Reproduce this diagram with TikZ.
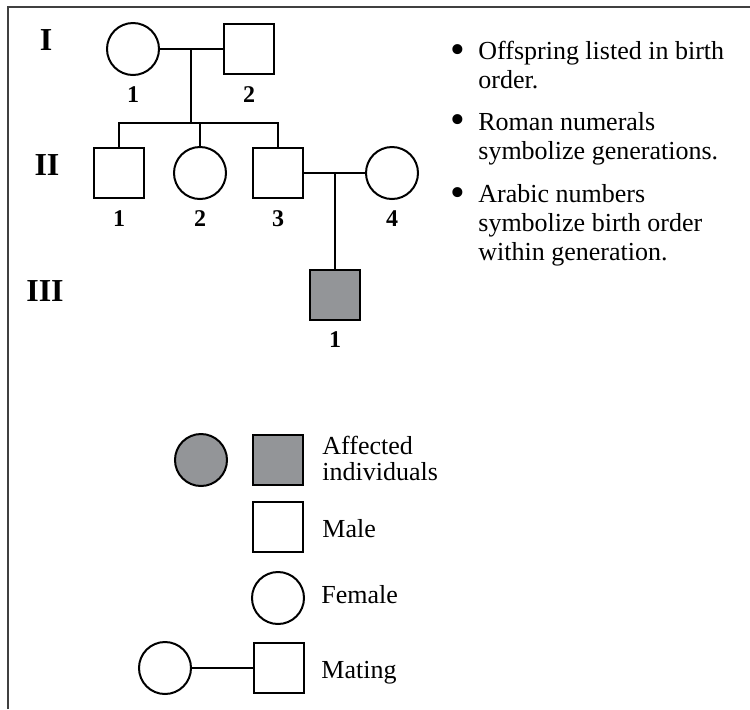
\documentclass[tikz,border=0pt]{standalone}
\usepackage{fontspec}
\setmainfont{Liberation Serif}
\usepackage{xcolor}
\usepackage{tikz}

\definecolor{affgray}{HTML}{939598}

\tikzset{
  female/.style={circle,draw,line width=1pt,minimum size=26pt,inner sep=0pt},
  male/.style={rectangle,draw,line width=1pt,minimum size=25pt,inner sep=0pt},
  affected/.style={fill=affgray},
  gen/.style={font=\fontsize{16}{16}\selectfont\bfseries,anchor=base,inner sep=0pt},
  num/.style={font=\fontsize{12}{12}\selectfont\bfseries,anchor=base,inner sep=0pt},
  txt/.style={font=\fontsize{13}{14.5}\selectfont,anchor=base west,inner sep=0pt,align=left},
  bul/.style={font=\fontsize{21}{21}\selectfont,anchor=center,inner sep=0pt},
  link/.style={line width=0.6pt}
}

\begin{document}
\begin{tikzpicture}[x=0.5pt,y=-0.5pt]
\useasboundingbox (0,0) rectangle (750,709);
\draw[line width=1pt,black!75] (7.5,709) -- (7.5,7) -- (750,7);

% generation labels
\node[gen] (g1) at (46,50) {I};
\node[gen] (g2) at (47,175) {II};
\node[gen] (g3) at (45,301) {III};

% generation I
\node[female] (i1) at (133,49) {};
\node[male] (i2) at (249,49) {};
\node[num] (ni1) at (133,102) {1};
\node[num] (ni2) at (249,102) {2};
\coordinate (m1) at (191,49);
\coordinate (s1) at (191,123);
\draw[link] (i1) -- (i2);
\draw[link] (m1) -- (s1);

% generation II
\node[male] (ii1) at (119,173) {};
\node[female] (ii2) at (200,173) {};
\node[male] (ii3) at (278,173) {};
\node[female] (ii4) at (392,173) {};
\node[num] (nii1) at (119,226) {1};
\node[num] (nii2) at (200,226) {2};
\node[num] (nii3) at (278,226) {3};
\node[num] (nii4) at (392,226) {4};
\draw[link] (ii1.north) |- (s1) -| (ii3.north);
\draw[link] (ii2.north) -- (ii2.north |- s1);
\coordinate (m2) at (335,173);
\draw[link] (ii3) -- (ii4);

% generation III
\node[male,affected] (iii1) at (335,295) {};
\node[num] (niii1) at (335,347) {1};
\draw[link] (m2) -- (iii1.north);

% notes (base = last line)
\node[bul] (b1) at (458,54) {•};
\node[txt] (t1) at (478,88) {Offspring listed in birth\\order.};
\node[bul] (b2) at (458,124) {•};
\node[txt] (t2) at (478,159) {Roman numerals\\symbolize generations.};
\node[bul] (b3) at (458,197) {•};
\node[txt] (t3) at (478,260) {Arabic numbers\\symbolize birth order\\within generation.};

% key
\node[female,affected] (ka) at (201,460) {};
\node[male,affected] (kb) at (278,460) {};
\node[txt,font=\fontsize{13}{13}\selectfont] (ta) at (322,480) {Affected\\individuals};
\node[male] (km) at (278,527) {};
\node[txt] (tm) at (322,537) {Male};
\node[female] (kf) at (278,598) {};
\node[txt] (tf) at (321,603) {Female};
\node[female] (kc) at (165,668) {};
\node[male] (ks) at (279,668) {};
\draw[link] (kc) -- (ks);
\node[txt] (tc) at (321,678) {Mating};
\end{tikzpicture}
\end{document}
